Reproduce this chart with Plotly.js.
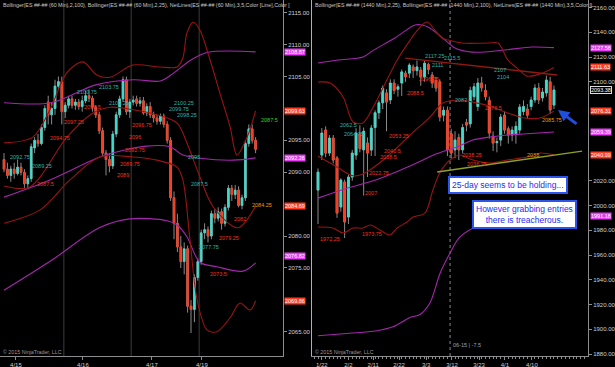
<!DOCTYPE html>
<html><head><meta charset="utf-8">
<script src="https://cdn.plot.ly/plotly-3.0.1.min.js"></script>
<style>html,body{margin:0;padding:0;background:#000;}#chart{width:615px;height:367px;}</style>
</head><body><div id="chart"></div>
<script>
// ---------- LEFT PANEL: ES 60 min ----------
const leftOpen  = [2092.0,2090.5,2089.5,2090.5,2089.8,2090.8,2090.0,2088.2,2089.0,2093.8,2095.0,2094.5,2097.0,2101.0,2099.0,2100.0,2103.5,2104.2,2099.5,2100.5,2101.5,2100.5,2101.0,2100.3,2101.2,2102.0,2101.6,2100.2,2099.0,2096.5,2093.0,2092.0,2091.0,2096.0,2099.0,2101.5,2104.5,2099.5,2101.0,2101.5,2100.8,2101.2,2099.3,2100.3,2099.0,2098.5,2098.0,2098.8,2097.5,2095.0,2086.0,2082.0,2078.3,2076.0,2078.0,2069.0,2068.5,2073.5,2076.0,2080.5,2081.0,2080.0,2083.5,2082.8,2083.8,2082.0,2084.5,2087.5,2086.5,2087.2,2084.8,2086.0,2094.5,2096.8,2095.0];
const leftHigh  = [2093.0,2091.5,2091.0,2091.5,2092.0,2091.5,2090.5,2089.5,2094.5,2095.5,2096.0,2097.5,2100.5,2102.0,2101.0,2104.5,2105.0,2105.0,2101.0,2102.0,2102.0,2101.5,2101.5,2102.0,2102.8,2103.0,2102.0,2100.5,2099.5,2097.0,2093.5,2093.0,2096.5,2099.5,2102.0,2105.0,2105.0,2101.5,2102.0,2102.0,2101.8,2101.8,2100.8,2101.0,2099.5,2099.0,2099.2,2099.2,2098.0,2095.5,2087.0,2083.5,2080.0,2079.0,2078.5,2070.0,2074.0,2076.5,2081.0,2082.0,2081.5,2084.0,2084.2,2084.5,2084.3,2085.0,2088.0,2088.0,2088.0,2087.8,2086.5,2095.0,2097.5,2097.5,2095.5];
const leftLow   = [2090.0,2089.0,2088.5,2089.0,2089.5,2089.5,2087.5,2087.5,2088.5,2093.0,2094.0,2094.2,2096.5,2097.5,2097.5,2099.0,2103.0,2097.5,2098.5,2100.0,2100.0,2099.8,2099.8,2099.5,2100.8,2101.0,2099.5,2098.5,2096.0,2092.5,2089.5,2090.0,2090.5,2095.5,2098.5,2101.0,2099.0,2098.5,2100.5,2100.3,2100.3,2099.0,2098.8,2098.5,2097.8,2097.5,2097.5,2097.0,2094.5,2085.5,2079.5,2077.5,2075.0,2074.0,2068.0,2064.8,2066.5,2073.0,2075.5,2079.5,2079.0,2079.5,2082.0,2082.3,2081.0,2081.5,2084.0,2085.5,2085.8,2084.5,2084.2,2085.5,2094.0,2094.5,2093.0];
const leftClose = [2090.5,2089.5,2090.5,2089.8,2090.8,2090.0,2088.2,2089.0,2094.0,2095.0,2094.5,2097.0,2100.0,2099.0,2100.0,2103.5,2104.2,2099.5,2100.5,2101.5,2100.5,2101.0,2100.3,2101.2,2102.0,2101.6,2100.2,2099.0,2096.5,2093.0,2092.0,2091.0,2096.0,2099.0,2101.5,2104.5,2099.5,2101.0,2101.3,2100.8,2101.2,2099.3,2100.3,2099.0,2098.5,2098.0,2098.8,2097.5,2095.0,2086.0,2082.0,2078.3,2076.0,2078.0,2069.0,2068.5,2073.5,2076.0,2080.5,2081.0,2080.0,2083.5,2082.8,2083.8,2082.0,2084.5,2087.5,2086.5,2087.2,2084.8,2086.0,2094.5,2096.8,2095.0,2093.6];
const leftDateTicks = [3.5, 23.2, 43.5, 58.2];
const leftDateText  = ['4/15','4/16','4/17','4/19'];
const leftSessionBreaks = [17.6, 37.4, 57.4];
const leftPriceTicks = [2065, 2075, 2080, 2090, 2095, 2105, 2110, 2115];   // 2070, 2085, 2100 sit under tags

// Bollinger(2,100) magenta, bar index -> value
const lUp100X = [0,14,27,38,46,49,55,60,74];
const lUp100  = [2100.9,2100.9,2103.7,2104.5,2104.3,2105.2,2107.6,2108.8,2108.87];
const lMid100X = [0,13.5,28.2,35.6,41.8,48.8,52.6,57.6,67.4,74];
const lMid100  = [2086.1,2088.8,2092.4,2093.5,2094.1,2094.0,2092.7,2092.2,2091.9,2092.26];
const lLow100X = [0,14,28,37,48,51,53.8,57.6,62.6,70.3,74];
const lLow100  = [2071.5,2076.2,2081.3,2082.7,2082.4,2081.7,2079.9,2075.9,2075.2,2074.5,2075.8];
// Bollinger(2,25) dark red
const lUp25X = [0,8.5,13.5,18.5,23.2,27.4,31.2,37.9,45.9,50.9,52.6,53.8,55.6,57.6,60.6,63.5,66.5,68.5,71.5,74];
const lUp25  = [2094.6,2095.5,2099.8,2105.6,2107.3,2105.2,2104.9,2106.8,2106.5,2106.5,2107.9,2111.8,2113.5,2112.3,2107.6,2102.4,2097.1,2092.7,2095.5,2099.63];
const lMid25X = [0,7.6,18.5,26.2,31.2,37.9,45,50.9,53.8,57.6,61.5,68.8,74];
const lMid25  = [2087.85,2087.7,2095.5,2099.3,2100.2,2099.8,2099.0,2097.7,2094.6,2089.3,2084.6,2081.3,2084.69];
const lLow25X = [0,10.6,19.4,28.2,37.9,45,50.9,52.6,54.7,56.8,59.7,62.6,66.5,69.4,72.4,74];
const lLow25  = [2082.0,2084.1,2088.8,2092.4,2092.4,2091.9,2090.8,2088.8,2079.4,2070.0,2065.3,2065.0,2067.2,2069.5,2068.4,2069.86];

const leftLabelText = ['2092.75','2089.25','2100.75','2103.75','2100.25','2100.25','2099.75','2098.25','2095','2087.5','2077.75',
  '2087.5','2094.75','2097.25','2098.5','2096.75','2096','2092.75','2089.75','2089','2082','2079.25','2073.5','2084.25','2087.5'];
const leftLabelX = [1.2,7.6,21,27.4,30.3,49.4,48,50.3,53.5,54.4,56.8, 9.1,12.9,17,22.9,37,36.2,35,33.5,32.6,67,62.6,60,72.4,75];
const leftLabelY = [2092.4,2091.0,2102.6,2103.4,2100.9,2100.9,2099.9,2099.0,2092.4,2088.2,2078.3,
  2088.2,2095.4,2097.9,2100.2,2097.4,2095.5,2093.5,2091.3,2089.6,2082.7,2079.7,2074.1,2084.9,2098.2];
const leftLabelKind = ['c','c','c','c','c','c','c','c','c','c','c','r','r','r','r','r','r','r','r','r','r','r','r','o','g'];
const leftTagValues = [2108.87,2099.63,2092.26,2084.69,2076.82,2069.86];
const leftTagKind   = ['m','r','m','r','m','r'];

// ---------- RIGHT PANEL: ES daily ----------
const rightOpen  = [2012.5,2040.8,2061,2042.4,2054.5,2038.4,1998.8,2019,1990.7,2023,2040.8,2058,2045,2050.5,2044.8,2063,2075,2083,2091,2085.3,2099,2094,2099,2107,2107,2112,2109,2109.5,2104,2114,2105.5,2101,2100,2073,2077,2058,2045,2055,2045,2067,2066,2088,2080,2099,2093,2085,2056,2050.8,2052.9,2073,2062,2057,2058,2061,2076,2078,2080,2085.3,2095,2087,2091,2100,2081.2];
const rightHigh  = [2030,2062.6,2064,2057,2057,2040,2022,2021,2025,2045,2062.5,2064.75,2063,2055,2065,2077,2085,2097,2094,2102,2102,2098,2110,2109,2115,2114,2117.25,2112,2117,2115.5,2108,2104,2102,2080,2080,2062,2060,2058,2066,2070,2096,2099,2103,2104,2098,2088,2060,2055,2074,2076,2064,2064,2068,2082,2085,2082,2088,2098,2099,2095,2105,2104,2097];
const rightLow   = [1985,2036.8,2039,2040,2034,1990,1995,1973.75,1985,2020,2037,2043,2008,2023,2040,2040,2070,2078,2060,2082,2090,2088,2088.5,2100,2103,2103,2105,2096.75,2100,2106,2095,2092,2068,2068,2040,2038,2038.25,2036.75,2042,2060,2063,2085,2076.5,2092,2085,2054,2044,2043,2048,2058,2050,2052,2050,2058,2073,2070,2077,2083,2082,2084,2088,2074,2078];
const rightClose = [2027,2058.6,2042.4,2054.5,2036.8,1994,2020.6,1986.7,2023,2042.4,2058.6,2046,2060,2042.4,2062.6,2075,2083,2095,2083.6,2099,2093,2096,2108,2104,2113.5,2109,2112,2104,2115,2110,2099,2095,2071.5,2077,2045,2042.4,2053,2045,2063,2065,2093,2096,2099,2095,2088,2058.6,2050.5,2051.6,2071.5,2061,2057,2061,2064,2079.6,2080,2073,2085.3,2095,2085.3,2091.7,2101.4,2077.2,2093.38];
const rightDateTicks = [1,8,14.5,21.3,28.4,35.2,42.3,49.1,56.2];
const rightDateText  = ['1/22','2/2','2/11','2/22','3/3','3/12','3/23','4/1','4/10'];
const rightPriceTicks = [1880,1900,1920,1940,1960,1980,2000,2020,2100,2120,2140,2160];   // 2040, 2060, 2080 sit under tags
const rightRollBar = 34.7;

const rUp100X = [0,5.3,11.8,14.2,20.2,25.5,27.3,29.4,33.4,36,40.5,49.1,56.2,62];
const rUp100  = [2115.2,2117.6,2120,2124.8,2135.4,2145.9,2145.9,2143.4,2133.7,2127.3,2124,2125.7,2128.1,2127.58];
const rMid100X = [0,6.6,15.5,24.2,31.3,36.5,40.7,45.2,49.7,53.9,62];
const rMid100  = [2006,2013,2021,2032,2042,2047.3,2052.9,2055.4,2057,2057.8,2059.39];
const rLow100X = [0,6.6,15.5,19.7,24.2,26.8,29.4,32.1,34.7,37.3,42.6,50.4,62];
const rLow100  = [1894.8,1896.4,1898.8,1902.0,1909.5,1911.9,1921.2,1945.5,1961.6,1974.6,1984.3,1989.1,1991.18];
const rUp25X = [0,3.2,6.6,9.2,11.8,14.5,18.1,20.8,24.2,25.5,28.6,30.7,32.6,34.2,37.8,44.7,47.3,49.9,52.3,54.9,58.3,62];
const rUp25  = [2099.8,2099,2087.7,2067.5,2066.7,2079.6,2101.4,2117.6,2133.7,2139.4,2148.3,2141.8,2135.4,2133.7,2131.3,2131.3,2131.3,2117.6,2111.1,2104.6,2106.3,2111.63];
const rMid25X = [0,5,9.2,11.8,18.1,24.2,29.4,32.8,37.3,40.7,44.4,49.7,53.9,58.3,62];
const rMid25  = [2040,2031.1,2024,2025.5,2039.2,2057,2071.5,2082.8,2085.3,2083.6,2081,2075,2071,2070.7,2076.31];
const rLow25X = [0,3.9,6.6,9.2,11.8,13.7,16.3,18.9,20.8,23.4,25,28.1,30.2,32.1,34.7,37.3,40.7,45.2,49.7,54.9,58.3,62];
const rLow25  = [1982.6,1981.8,1977.8,1981.8,1981.8,1984.3,1980.2,1976.2,1981.8,1986.7,1990.7,1993.9,2012.5,2027.1,2036.8,2040.8,2036.8,2034.4,2036.8,2039.2,2042.4,2040.99];
// user-drawn trend lines (bar index, price)
const redTrendX = [22.9, 62.8];
const redTrendY = [2119.2, 2105.5];
const greenTrendX = [31.3, 69.4];
const greenTrendY = [2027.1, 2044.0];

const rightLabelText = ['2062.5','2064.75','2117.25','2115.5','2111','2082','2107','2104',
  '1972.25','1973.75','2007','2022.75','2038.5','2040.5','2053.25','2088.5','2096.75','2076.5','2038.25','2036.75','2038','2085.75'];
const rightLabelX = [5.3,6.3,27.6,32.6,29.4,35.5,45.7,46.5, 0,11,11.8,12.9,15.8,16.8,18.1,22.9,26,43.4,37.3,38.6, 54.4,58.3];
const rightLabelY = [2065.1,2057.8,2120.8,2119.2,2113.5,2085.3,2109.5,2103.8, 1972.9,1977,2010.1,2026.3,2039.2,2044,2056.2,2090.9,2102.2,2078.8,2040.8,2033.5, 2040.8,2069.1];
const rightLabelKind = ['c','c','c','c','c','c','c','c','r','r','r','r','r','r','r','r','r','r','r','r','o','o'];
const rightTagValues = [2127.58,2111.63,2093.38,2076.31,2059.39,2040.99,1991.18];
const rightTagKind   = ['m','r','last','r','m','r','m'];

const headerLeft  = 'Bollinger(ES ##-## (60 Min),2,100), Bollinger(ES ##-## (60 Min),2,25), NetLines(ES ##-## (60 Min),3,5,Color [Line],Color [';
const headerRight = 'Bollinger(ES ##-## (1440 Min),2,25), Bollinger(ES ##-## (1440 Min),2,100), NetLines(ES ##-## (1440 Min),3,5,Color [L';
const noteText1 = '25-day seems to be holding...';
const noteText2 = 'However grabbing entries<br>there is treacherous.';
const rollText = '06-15 | -7.5';
const copyright = '\u00a9 2015 NinjaTrader, LLC';

// ---------- build ----------
const CYAN = '#40dccd', RED = '#ff3b1c', WICK = '#8a8a8a';
const MAG = '#a526ae', DRED = '#991414';
const LABELC = {c:'#2bb3ab', r:'#f0321c', o:'#e89a10', g:'#2fd02f'};

function candles(o,h,l,c,xa,ya){
  const x = o.map((_,i)=>i);
  const bh = o.map((v,i)=>Math.max(v,c[i]));
  const bl = o.map((v,i)=>Math.min(v,c[i]));
  const base = {type:'candlestick', x:x, xaxis:xa, yaxis:ya, hoverinfo:'skip', showlegend:false, whiskerwidth:0};
  return [
    Object.assign({}, base, {open:o, high:h, low:l, close:c,
      increasing:{line:{color:WICK,width:1},fillcolor:WICK}, decreasing:{line:{color:WICK,width:1},fillcolor:WICK}}),
    Object.assign({}, base, {open:o, high:bh, low:bl, close:c,
      increasing:{line:{color:CYAN,width:0.6},fillcolor:CYAN}, decreasing:{line:{color:RED,width:0.6},fillcolor:RED}})
  ];
}
function band(x,y,color,xa,ya){
  return {type:'scatter', mode:'lines', x:x, y:y, xaxis:xa, yaxis:ya, hoverinfo:'skip', showlegend:false,
    line:{color:color, width:1.1, shape:'spline', smoothing:0.9}};
}
const traces = [].concat(
  [band(lUp100X,lUp100,MAG,'x','y'), band(lMid100X,lMid100,MAG,'x','y'), band(lLow100X,lLow100,MAG,'x','y'),
   band(lUp25X,lUp25,DRED,'x','y'), band(lMid25X,lMid25,DRED,'x','y'), band(lLow25X,lLow25,DRED,'x','y')],
  candles(leftOpen,leftHigh,leftLow,leftClose,'x','y'),
  [band(rUp100X,rUp100,MAG,'x2','y2'), band(rMid100X,rMid100,MAG,'x2','y2'), band(rLow100X,rLow100,MAG,'x2','y2'),
   band(rUp25X,rUp25,DRED,'x2','y2'), band(rMid25X,rMid25,DRED,'x2','y2'), band(rLow25X,rLow25,DRED,'x2','y2'),
   {type:'scatter',mode:'lines',x:redTrendX,y:redTrendY,xaxis:'x2',yaxis:'y2',line:{color:'#8e1a10',width:1.3},hoverinfo:'skip',showlegend:false},
   {type:'scatter',mode:'lines',x:greenTrendX,y:greenTrendY,xaxis:'x2',yaxis:'y2',line:{color:'#8ea024',width:1.3},hoverinfo:'skip',showlegend:false}],
  candles(rightOpen,rightHigh,rightLow,rightClose,'x2','y2')
);

const ann = [];
function priceLabels(t,x,y,k,xr,yr){
  t.forEach((s,i)=>ann.push({xref:xr,yref:yr,x:x[i],y:y[i],text:s,showarrow:false,xanchor:'left',yanchor:'middle',
    font:{size:5.5,color:LABELC[k[i]]}}));
}
priceLabels(leftLabelText,leftLabelX,leftLabelY,leftLabelKind,'x','y');
priceLabels(rightLabelText,rightLabelX,rightLabelY,rightLabelKind,'x2','y2');
function tags(vals,kinds,xpx,yr){
  vals.forEach((v,i)=>{
    const k = kinds[i];
    ann.push({xref:'paper',yref:yr,x:xpx/615,y:v,text:v.toFixed(2),showarrow:false,xanchor:'left',yanchor:'middle',
      font:{size:5.5,color:'#fff'},bgcolor:k==='m'?'#e33ef0':(k==='r'?'#ff3a1e':'#000'),
      bordercolor:k==='last'?'#ddd':'rgba(0,0,0,0)',borderwidth:1,borderpad:0});
  });
}
tags(leftTagValues,leftTagKind,284,'y');
tags(rightTagValues,rightTagKind,590,'y2');
const py = px => (356-px)/356;
ann.push({xref:'paper',yref:'paper',x:1/615,y:py(5),text:headerLeft,showarrow:false,xanchor:'left',yanchor:'middle',font:{size:5.3,color:'#c8c8c8'}});
ann.push({xref:'paper',yref:'paper',x:313/615,y:py(5),text:headerRight,showarrow:false,xanchor:'left',yanchor:'middle',font:{size:5.3,color:'#c8c8c8'}});
ann.push({xref:'paper',yref:'paper',x:1/615,y:py(352),text:copyright,showarrow:false,xanchor:'left',yanchor:'middle',font:{size:5.3,color:'#9a9a9a'}});
ann.push({xref:'paper',yref:'paper',x:313/615,y:py(352),text:copyright,showarrow:false,xanchor:'left',yanchor:'middle',font:{size:5.3,color:'#9a9a9a'}});
ann.push({xref:'x2',yref:'paper',x:rightRollBar+0.2,y:py(345),text:rollText,showarrow:false,xanchor:'left',yanchor:'middle',font:{size:5.5,color:'#a0a0a0'}});
ann.push({xref:'paper',yref:'paper',x:508/615,y:py(185),text:noteText1,showarrow:false,xanchor:'center',yanchor:'middle',
  font:{size:8.5,color:'#1e2ef0'},bgcolor:'#fff',bordercolor:'#2a55ee',borderwidth:2,borderpad:2});
ann.push({xref:'paper',yref:'paper',x:524/615,y:py(214),text:noteText2,showarrow:false,xanchor:'center',yanchor:'middle',
  font:{size:8.5,color:'#1e2ef0'},bgcolor:'#fff',bordercolor:'#2a55ee',borderwidth:2,borderpad:2});
ann.push({xref:'paper',yref:'paper',x:558/615,y:py(110),ax:20,ay:15,text:'',showarrow:true,arrowhead:2,arrowsize:0.75,arrowwidth:3,arrowcolor:'#1f4fe0'});

const shapes = [];
leftSessionBreaks.forEach(b=>shapes.push({type:'line',xref:'x',yref:'paper',x0:b,x1:b,y0:0,y1:1,line:{color:'#3c3c3c',width:1},layer:'below'}));
shapes.push({type:'line',xref:'x2',yref:'paper',x0:rightRollBar,x1:rightRollBar,y0:0,y1:1,line:{color:'#8a8a8a',width:1,dash:'dot'},layer:'below'});
shapes.push({type:'line',xref:'paper',yref:'paper',x0:311.5/615,x1:311.5/615,y0:0,y1:1,line:{color:'#b0b0b0',width:1}});

const axCommon = {showgrid:false, zeroline:false, showline:true, linecolor:'#8c8c8c', ticks:'outside', ticklen:3,
  tickcolor:'#8c8c8c', tickfont:{size:6,color:'#cfcfcf'}, fixedrange:true};
const layout = {
  width:615, height:367, margin:{l:0,r:0,t:0,b:11}, paper_bgcolor:'#000', plot_bgcolor:'#000', showlegend:false,
  font:{family:'Liberation Sans, Arial, sans-serif'},
  xaxis:Object.assign({}, axCommon, {domain:[0,283/615], anchor:'y', range:[-1.18,82.06], tickmode:'array',
    tickvals:leftDateTicks, ticktext:leftDateText, rangeslider:{visible:false}}),
  yaxis:Object.assign({}, axCommon, {domain:[0,1], anchor:'x', side:'right', range:[2061.2,2117.0],
    tickmode:'array', tickvals:leftPriceTicks, tickformat:'.2f'}),
  xaxis2:Object.assign({}, axCommon, {domain:[311/615,588/615], anchor:'y2', range:[-1.84,70.94], tickmode:'array',
    tickvals:rightDateTicks, ticktext:rightDateText, rangeslider:{visible:false},
    minor:{tickmode:'linear', tick0:0, dtick:1, ticks:'outside', ticklen:2, tickcolor:'#8c8c8c'}}),
  yaxis2:Object.assign({}, axCommon, {domain:[0,1], anchor:'x2', side:'right', range:[1878.4,2166.1],
    tickmode:'array', tickvals:rightPriceTicks, tickformat:'.2f'}),
  annotations:ann, shapes:shapes
};
Plotly.newPlot('chart', traces, layout, {displayModeBar:false, staticPlot:true});
</script>
</body></html>
